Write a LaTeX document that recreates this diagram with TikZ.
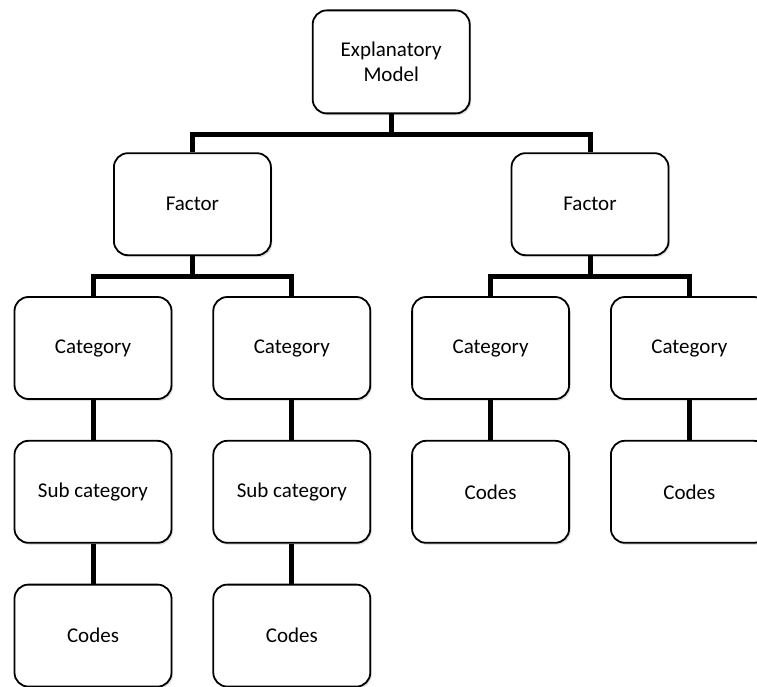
\documentclass[tikz,border=0pt]{standalone}
\usepackage{fontspec}
\setmainfont{Carlito}
\usetikzlibrary{positioning,calc,shadows}

\begin{document}
\begin{tikzpicture}[x=1pt,y=1pt,node distance=40pt and 40pt,
  box/.style={draw,line width=1.8pt,rounded corners=14pt,fill=white,
    minimum width=157pt,minimum height=102pt,inner sep=0pt,align=center,
    font=\fontsize{21}{25}\selectfont,
    drop shadow={shadow xshift=1.5pt,shadow yshift=-2pt,opacity=0.25}},
  bus/.style={line width=5pt}]
\useasboundingbox (0,0) rectangle (757,686);
\clip (0,0) rectangle (757,686);
% category row
\node[box] at (93,338) (cat1) {Category};
\node[box,right=of cat1] (cat2) {Category};
\node[box,right=of cat2] (cat3) {Category};
\node[box,right=of cat3] (cat4) {Category};
% below
\node[box,below=of cat1] (sub1) {Sub category};
\node[box,below=of cat2] (sub2) {Sub category};
\node[box,below=of sub1] (codes1) {Codes};
\node[box,below=of sub2] (codes2) {Codes};
\node[box,below=of cat3] (codes3) {Codes};
\node[box,below=of cat4] (codes4) {Codes};
% factors and model
\coordinate (mid12) at ($(cat1.north)!0.5!(cat2.north)$);
\coordinate (mid34) at ($(cat3.north)!0.5!(cat4.north)$);
\node[box,above=of mid12] (fac1) {Factor};
\node[box,above=of mid34] (fac2) {Factor};
\coordinate (midf) at ($(fac1.north)!0.5!(fac2.north)$);
\node[box,above=38pt of midf,minimum height=103pt] (model) {Explanatory\\Model};
% connectors
\draw[bus] (model.south) -- ++(0,-20) -| (fac1.north);
\draw[bus] (model.south) -- ++(0,-20) -| (fac2.north);
\draw[bus] (fac1.south) -- ++(0,-20) -| (cat1.north);
\draw[bus] (fac1.south) -- ++(0,-20) -| (cat2.north);
\draw[bus] (fac2.south) -- ++(0,-20) -| (cat3.north);
\draw[bus] (fac2.south) -- ++(0,-20) -| (cat4.north);
\draw[bus] (cat1.south) -- (sub1.north);
\draw[bus] (cat2.south) -- (sub2.north);
\draw[bus] (sub1.south) -- (codes1.north);
\draw[bus] (sub2.south) -- (codes2.north);
\draw[bus] (cat3.south) -- (codes3.north);
\draw[bus] (cat4.south) -- (codes4.north);
\end{tikzpicture}
\end{document}
